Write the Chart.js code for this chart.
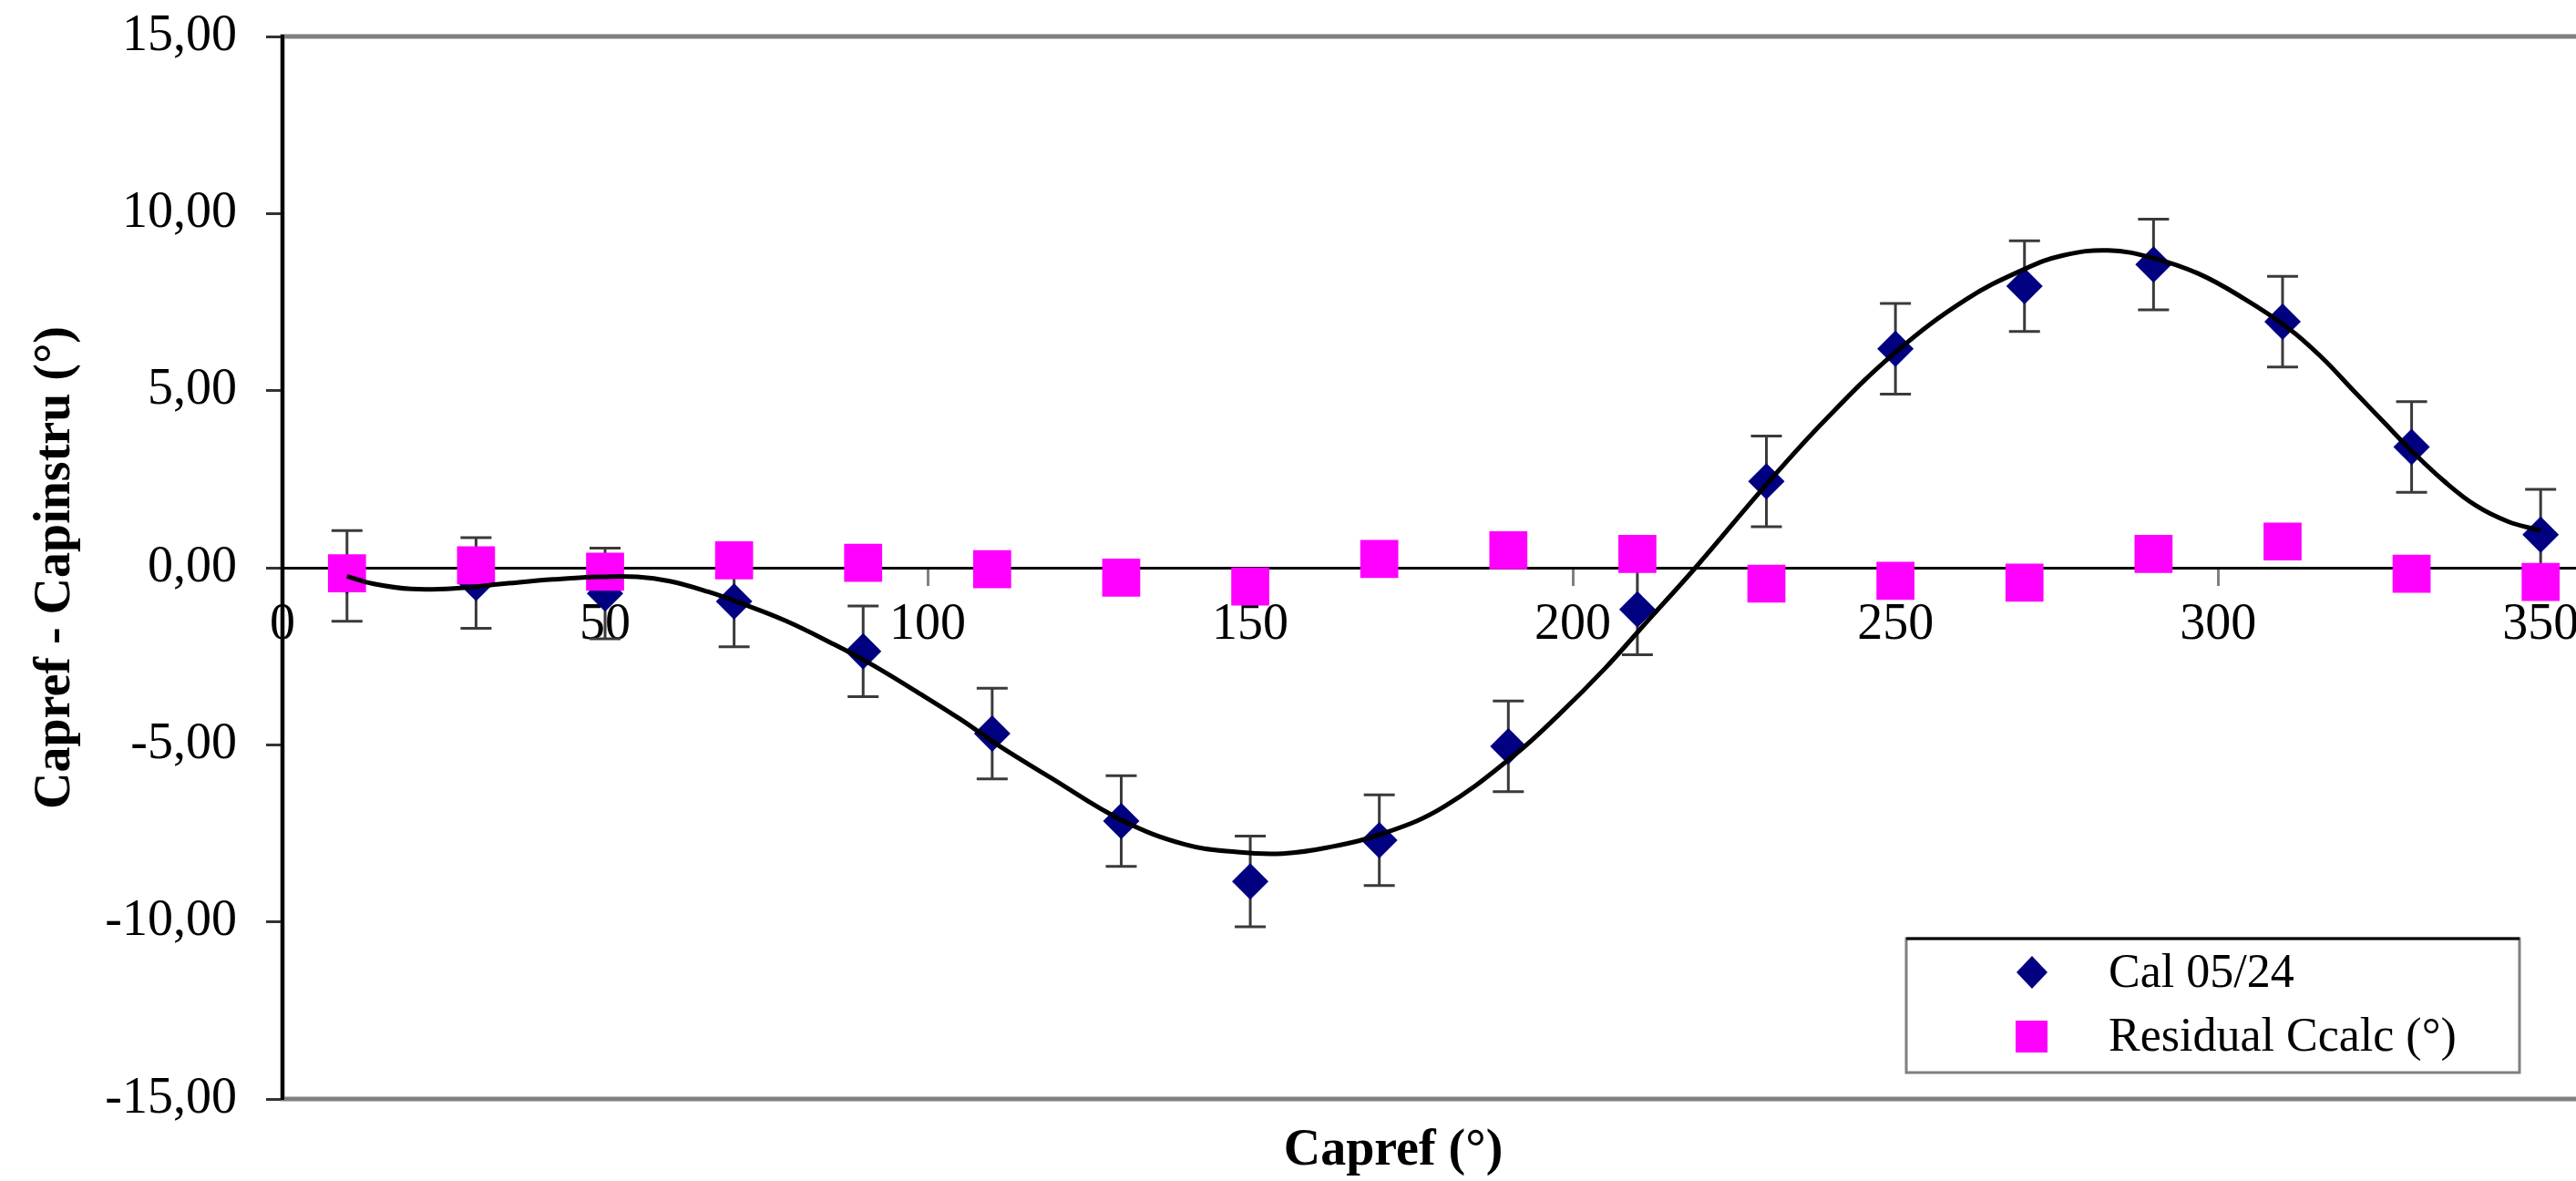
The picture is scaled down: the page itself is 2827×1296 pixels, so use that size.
<!DOCTYPE html>
<html>
<head>
<meta charset="utf-8">
<script src="https://cdn.jsdelivr.net/npm/chart.js@4"></script>
<style>
  html, body { margin: 0; padding: 0; background: #fff; overflow: hidden; }
  #wrap { width: 2827px; height: 1296px; overflow: hidden; }
  canvas { display: block; }
</style>
</head>
<body>
<div id="wrap">
  <canvas id="chart" width="2900" height="1296" style="width:2900px;height:1296px"></canvas>
</div>
<script>
// ----- DATA -----
const capref = [10, 30, 50, 70, 90, 110, 130, 150, 170, 190, 210, 230, 250, 270, 290, 310, 330, 350];
const calValues = [-0.23, -0.43, -0.73, -0.95, -2.36, -4.68, -7.15, -8.86, -7.69, -5.04, -1.18, 2.44, 6.18, 7.95, 8.56, 6.95, 3.41, 0.93];
const calErrors = [1.28, 1.28, 1.28, 1.28, 1.28, 1.28, 1.28, 1.28, 1.28, 1.28, 1.28, 1.28, 1.28, 1.28, 1.28, 1.28, 1.28, 1.28];
const residuals = [-0.16, 0.07, -0.11, 0.21, 0.14, -0.04, -0.28, -0.53, 0.25, 0.49, 0.39, -0.45, -0.37, -0.42, 0.39, 0.74, -0.17, -0.40];

// fitted curve
const fitX = [10, 14, 20, 27, 35, 42, 49, 55, 60, 66, 71, 78, 85, 91, 99, 105, 111, 119, 130, 140, 148, 155, 162, 171, 180, 191, 198, 205, 211, 219, 230, 239, 250, 261, 270, 276, 283, 290, 297, 304, 311, 316, 321, 326, 330, 335, 340, 345, 350];
const fitY = [-0.24, -0.45, -0.6, -0.58, -0.44, -0.33, -0.26, -0.26, -0.38, -0.68, -1.0, -1.5, -2.12, -2.7, -3.58, -4.27, -5.02, -5.92, -7.12, -7.82, -8.03, -8.07, -7.9, -7.48, -6.75, -5.28, -4.12, -2.84, -1.62, 0.0, 2.35, 4.15, 6.08, 7.58, 8.43, 8.82, 8.96, 8.74, 8.3, 7.6, 6.75, 5.95, 5.0, 4.05, 3.3, 2.45, 1.75, 1.3, 1.05];

const xTickValues = [0, 50, 100, 150, 200, 250, 300, 350];
const yTickValues = [-15, -10, -5, 0, 5, 10, 15];

const seriesNames = ["Cal 05/24", "Residual Ccalc (°)"];
const xTitle = "Capref (°)";
const yTitle = "Capref - Capinstru (°)";

document.addEventListener("DOMContentLoaded", () => {
  const SERIF = '"Liberation Serif", "Times New Roman", serif';
  const NAVY = "#000080";
  const PINK = "#ff00ff";

  const toPoints = (xs, ys) => xs.map((x, i) => ({ x: x, y: ys[i] }));

  // ----- PLUGINS -----
  const frame = {
    id: "frame",
    beforeDraw(chart) {
      const { ctx, chartArea: a } = chart;
      ctx.save();
      ctx.strokeStyle = "#808080";
      ctx.lineWidth = 5;
      ctx.strokeRect(a.left, a.top, a.right - a.left, a.bottom - a.top);
      ctx.restore();
    }
  };

  const errorBars = {
    id: "errorBars",
    beforeDatasetsDraw(chart) {
      const { ctx, scales } = chart;
      ctx.save();
      ctx.strokeStyle = "#3a3a3a";
      ctx.lineWidth = 3;
      capref.forEach((x, i) => {
        const px = scales.x.getPixelForValue(x);
        const top = scales.y.getPixelForValue(calValues[i] + calErrors[i]);
        const bot = scales.y.getPixelForValue(calValues[i] - calErrors[i]);
        ctx.beginPath();
        ctx.moveTo(px, top); ctx.lineTo(px, bot);
        ctx.moveTo(px - 17, top); ctx.lineTo(px + 17, top);
        ctx.moveTo(px - 17, bot); ctx.lineTo(px + 17, bot);
        ctx.stroke();
      });
      ctx.restore();
    }
  };

  const extras = {
    id: "extras",
    afterDraw(chart) {
      const { ctx } = chart;
      ctx.save();

      // x axis title
      ctx.fillStyle = "#000";
      ctx.font = "bold 56px " + SERIF;
      ctx.textAlign = "center";
      ctx.textBaseline = "middle";
      ctx.fillText(xTitle, 1529, 1264);

      // legend box
      const L = 2092, T = 1030, R = 2765, B = 1177;
      ctx.fillStyle = "#fff";
      ctx.fillRect(L, T, R - L, B - T);
      ctx.lineWidth = 3;
      ctx.strokeStyle = "#808080";
      ctx.strokeRect(L, T, R - L, B - T);
      ctx.strokeStyle = "#000";
      ctx.beginPath(); ctx.moveTo(L, T); ctx.lineTo(R, T); ctx.stroke();

      // diamond
      ctx.fillStyle = NAVY;
      ctx.beginPath();
      ctx.moveTo(2230, 1067 - 18); ctx.lineTo(2230 + 17, 1067);
      ctx.lineTo(2230, 1067 + 18); ctx.lineTo(2230 - 17, 1067);
      ctx.closePath(); ctx.fill();
      // square
      ctx.fillStyle = PINK;
      ctx.fillRect(2212, 1120, 35, 35);

      ctx.fillStyle = "#000";
      ctx.font = "52px " + SERIF;
      ctx.textAlign = "left";
      ctx.fillText(seriesNames[0], 2314, 1069);
      ctx.fillText(seriesNames[1], 2314, 1139);
      ctx.restore();
    }
  };

  // ----- CHART -----
  const ctx = document.getElementById("chart").getContext("2d");
  new Chart(ctx, {
    type: "scatter",
    data: {
      datasets: [
        {
          type: "line",
          label: "fit",
          data: toPoints(fitX, fitY),
          borderColor: "#000",
          borderWidth: 5,
          pointRadius: 0,
          fill: false,
          showLine: true,
          tension: 0.4,
          order: 0
        },
        {
          label: seriesNames[1],
          data: toPoints(capref, residuals),
          pointStyle: "rect",
          pointRadius: 29.5,
          backgroundColor: PINK,
          borderWidth: 0,
          order: 1
        },
        {
          label: seriesNames[0],
          data: toPoints(capref, calValues),
          pointStyle: "rectRot",
          pointRadius: 20,
          backgroundColor: NAVY,
          borderWidth: 0,
          order: 2
        }
      ]
    },
    options: {
      responsive: false,
      devicePixelRatio: 1,
      animation: false,
      layout: { padding: { left: 0, top: 40, right: 41, bottom: 90 } },
      plugins: {
        legend: { display: false },
        tooltip: { enabled: false }
      },
      scales: {
        x: {
          type: "linear",
          position: { y: 0 },
          min: 0,
          max: 360,
          afterBuildTicks: (s) => { s.ticks = xTickValues.map((v) => ({ value: v })); },
          afterFit: (s) => { s.height = 0; },
          grid: {
            drawOnChartArea: false,
            drawTicks: true,
            tickLength: 18,
            tickWidth: 3,
            tickColor: "#808080"
          },
          border: { color: "#000", width: 3 },
          ticks: {
            padding: 12,
            maxRotation: 0,
            autoSkip: false,
            color: "#000",
            font: { family: SERIF, size: 56 }
          }
        },
        y: {
          type: "linear",
          position: "left",
          min: -15,
          max: 15,
          afterBuildTicks: (s) => { s.ticks = yTickValues.map((v) => ({ value: v })); },
          afterFit: (s) => {
            s.width = 310;
            s.paddingTop = 0;
            s.paddingBottom = 0;
          },
          grid: {
            drawOnChartArea: false,
            drawTicks: true,
            tickLength: 18,
            tickWidth: 3,
            tickColor: "#333"
          },
          border: { color: "#000", width: 4 },
          ticks: {
            padding: 32,
            color: "#000",
            font: { family: SERIF, size: 56 },
            callback: (v) => v.toFixed(2).replace(".", ",")
          },
          title: {
            display: true,
            text: yTitle,
            color: "#000",
            font: { family: SERIF, size: 56, weight: "bold" },
            padding: { top: 28, bottom: 0 }
          }
        }
      }
    },
    plugins: [frame, errorBars, extras]
  });
});
</script>
</body>
</html>
